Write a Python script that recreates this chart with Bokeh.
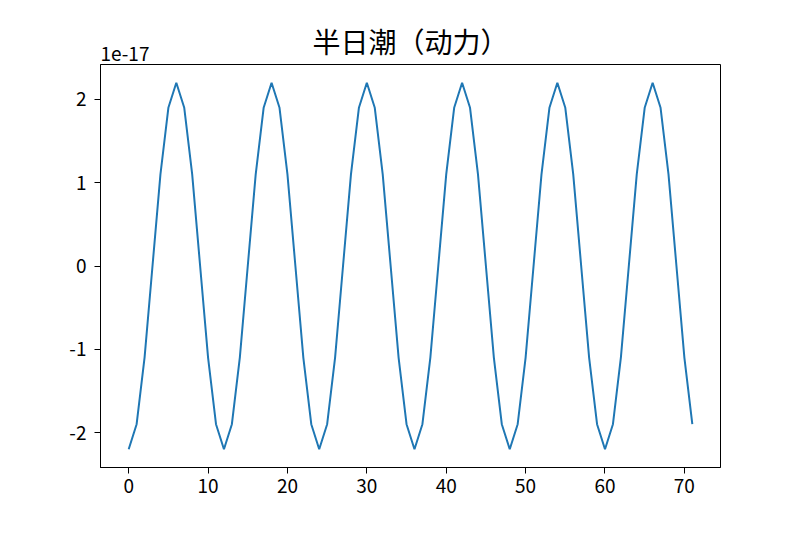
from bokeh.plotting import figure
from bokeh.models import Range1d, FixedTicker, Title
from bokeh.embed import file_html
from bokeh.resources import INLINE

title_text = "半日潮（动力）"
offset_text = "1e-17"

hours = list(range(72))
# values in units of 1e-17
values = [
    -2.2, -1.9, -1.1, 0.0, 1.1, 1.9, 2.2, 1.9, 1.1, 0.0, -1.1, -1.9,
    -2.2, -1.9, -1.1, 0.0, 1.1, 1.9, 2.2, 1.9, 1.1, 0.0, -1.1, -1.9,
    -2.2, -1.9, -1.1, 0.0, 1.1, 1.9, 2.2, 1.9, 1.1, 0.0, -1.1, -1.9,
    -2.2, -1.9, -1.1, 0.0, 1.1, 1.9, 2.2, 1.9, 1.1, 0.0, -1.1, -1.9,
    -2.2, -1.9, -1.1, 0.0, 1.1, 1.9, 2.2, 1.9, 1.1, 0.0, -1.1, -1.9,
    -2.2, -1.9, -1.1, 0.0, 1.1, 1.9, 2.2, 1.9, 1.1, 0.0, -1.1, -1.9,
]
x_ticks = [0, 10, 20, 30, 40, 50, 60, 70]
y_ticks = [-2, -1, 0, 1, 2]
y_tick_labels = ["-2", "-1", "0", "1", "2"]

FONT = "Noto Sans CJK SC"

p = figure(width=784, height=518, output_backend="svg", toolbar_location=None,
           x_range=Range1d(-3.55, 74.55), y_range=Range1d(-2.42, 2.42),
           title=None,
           min_border_left=100, min_border_right=64, min_border_top=64, min_border_bottom=51)
p.background_fill_color = "white"
p.border_fill_color = "white"
p.outline_line_color = "black"
p.outline_line_width = 1
p.grid.visible = False

p.add_layout(Title(text=offset_text, align="left", text_font=FONT, text_font_size="19px",
                   text_font_style="normal", text_color="black", offset=0, standoff=7), "above")
p.add_layout(Title(text=title_text, align="center", text_font=FONT, text_font_size="28px",
                   text_font_style="normal", text_color="black", offset=0, standoff=-38), "above")

p.line(hours, values, line_color="#1f77b4", line_width=2)

for ax in (p.xaxis[0], p.yaxis[0]):
    ax.axis_line_color = "black"
    ax.major_tick_line_color = "black"
    ax.major_tick_out = 6
    ax.major_tick_in = 0
    ax.minor_tick_line_color = None
    ax.major_label_text_font = FONT
    ax.major_label_text_font_size = "19px"
    ax.major_label_text_color = "black"

p.xaxis[0].major_label_standoff = 5
p.yaxis[0].major_label_standoff = 8
p.xaxis[0].ticker = FixedTicker(ticks=x_ticks)
p.yaxis[0].ticker = FixedTicker(ticks=y_ticks)
p.yaxis[0].major_label_overrides = {t: l for t, l in zip(y_ticks, y_tick_labels)}

open("out.html", "w").write(file_html(p, INLINE))
